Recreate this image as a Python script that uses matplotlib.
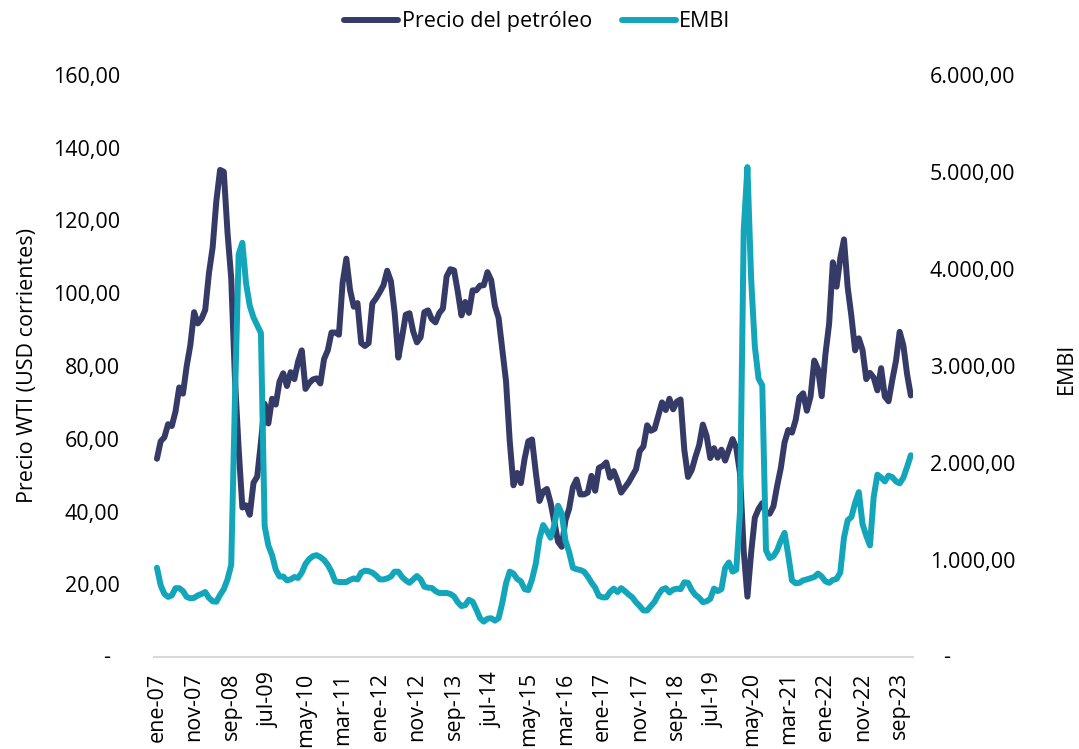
#!/usr/bin/env python3
"""WTI oil price vs. EMBI, monthly 2007-2023."""

import matplotlib
matplotlib.use('Agg')
import matplotlib.pyplot as plt
from matplotlib.lines import Line2D

plt.rcParams['font.family'] = ['Open Sans', 'DejaVu Sans']

C = {
    'oil': '#353b66',
    'embi': '#13a6ba',
    'axis': '#d9d9d9',
    'text': '#000000',
}

MONTHS = ['ene', 'feb', 'mar', 'abr', 'may', 'jun',
          'jul', 'ago', 'sep', 'oct', 'nov', 'dic']
YEARS = list(range(2007, 2024))

# WTI monthly average, USD per barrel
wti_2007 = [54.5, 59.3, 60.4, 64.0, 63.5, 67.5, 74.1, 72.4, 79.9, 85.8, 94.8, 91.7]
wti_2008 = [93.0, 95.4, 105.5, 112.6, 125.4, 133.9, 133.4, 116.7, 104.1, 76.6, 57.3, 41.1]
wti_2009 = [41.7, 39.1, 47.9, 49.6, 59.0, 69.6, 64.2, 71.0, 69.4, 75.7, 78.0, 74.5]
wti_2010 = [78.3, 76.4, 81.2, 84.3, 73.7, 75.3, 76.3, 76.6, 75.2, 81.9, 84.3, 89.2]
wti_2011 = [89.2, 88.6, 102.9, 109.5, 100.9, 96.3, 97.3, 86.3, 85.5, 86.3, 97.2, 98.6]
wti_2012 = [100.3, 102.2, 106.2, 103.3, 94.7, 82.3, 87.9, 94.1, 94.5, 89.5, 86.5, 87.9]
wti_2013 = [94.8, 95.3, 92.9, 92.0, 94.5, 95.8, 104.6, 106.6, 106.3, 100.5, 93.9, 97.6]
wti_2014 = [94.6, 100.8, 100.8, 102.1, 102.2, 105.8, 103.6, 96.5, 93.2, 84.4, 75.8, 59.3]
wti_2015 = [47.2, 50.6, 47.8, 54.5, 59.3, 59.8, 50.9, 42.9, 45.5, 46.2, 42.4, 37.2]
wti_2016 = [31.7, 30.3, 37.6, 40.8, 46.7, 48.8, 44.7, 44.7, 45.2, 49.8, 45.7, 52.0]
wti_2017 = [52.5, 53.5, 49.3, 51.1, 48.5, 45.2, 46.6, 48.0, 49.8, 51.6, 56.6, 57.9]
wti_2018 = [63.7, 62.2, 62.7, 66.3, 70.0, 67.9, 71.0, 68.1, 70.2, 70.8, 57.0, 49.5]
wti_2019 = [51.4, 55.0, 58.2, 63.9, 60.8, 54.7, 57.4, 54.8, 57.0, 54.0, 57.0, 59.9]
wti_2020 = [57.5, 50.5, 29.2, 16.6, 28.6, 38.3, 40.7, 42.3, 39.6, 39.4, 41.4, 47.0]
wti_2021 = [52.0, 59.0, 62.4, 61.7, 65.2, 71.4, 72.5, 67.7, 71.6, 81.5, 79.2, 71.7]
wti_2022 = [83.2, 91.6, 108.5, 101.8, 109.6, 114.8, 101.6, 93.7, 84.3, 87.6, 84.4, 76.4]
wti_2023 = [78.1, 76.8, 73.3, 79.4, 71.6, 70.3, 76.1, 81.4, 89.4, 85.6, 77.7, 71.9]

# EMBI, basis points
embi_2007 = [920, 740, 650, 620, 635, 710, 710, 680, 620, 605, 610, 635]
embi_2008 = [650, 670, 610, 575, 570, 640, 700, 800, 950, 2650, 4150, 4270]
embi_2009 = [3850, 3620, 3500, 3420, 3340, 1350, 1150, 1050, 900, 830, 830, 790]
embi_2010 = [800, 825, 815, 870, 960, 1010, 1040, 1050, 1030, 1000, 950, 880]
embi_2011 = [780, 773, 773, 773, 795, 810, 800, 870, 890, 885, 870, 840]
embi_2012 = [800, 800, 810, 830, 880, 880, 825, 790, 765, 800, 835, 800]
embi_2013 = [725, 715, 712, 680, 660, 660, 660, 650, 625, 565, 525, 535]
embi_2014 = [590, 570, 490, 400, 365, 395, 400, 375, 400, 560, 760, 880]
embi_2015 = [860, 805, 780, 700, 690, 800, 960, 1220, 1360, 1300, 1230, 1360]
embi_2016 = [1560, 1480, 1200, 1080, 920, 905, 897, 880, 830, 768, 715, 630]
embi_2017 = [615, 615, 670, 705, 670, 710, 680, 645, 615, 565, 525, 480]
embi_2018 = [480, 525, 570, 640, 695, 710, 665, 695, 705, 700, 770, 765]
embi_2019 = [690, 640, 610, 565, 575, 600, 705, 680, 700, 920, 975, 880]
embi_2020 = [900, 1500, 4400, 5050, 3900, 3200, 2870, 2800, 1100, 1020, 1040, 1100]
embi_2021 = [1200, 1280, 1050, 790, 760, 765, 790, 800, 812, 825, 860, 830]
embi_2022 = [780, 765, 794, 805, 870, 1230, 1410, 1443, 1590, 1700, 1370, 1250]
embi_2023 = [1150, 1650, 1880, 1850, 1810, 1870, 1855, 1810, 1790, 1850, 1960, 2080]

wti = (wti_2007 + wti_2008 + wti_2009 + wti_2010 + wti_2011 + wti_2012
       + wti_2013 + wti_2014 + wti_2015 + wti_2016 + wti_2017 + wti_2018
       + wti_2019 + wti_2020 + wti_2021 + wti_2022 + wti_2023)
embi = (embi_2007 + embi_2008 + embi_2009 + embi_2010 + embi_2011 + embi_2012
        + embi_2013 + embi_2014 + embi_2015 + embi_2016 + embi_2017 + embi_2018
        + embi_2019 + embi_2020 + embi_2021 + embi_2022 + embi_2023)
dates = [f'{m}-{str(y)[2:]}' for y in YEARS for m in MONTHS]
x = list(range(len(dates)))

left_ticks = list(range(0, 161, 20))
right_ticks = list(range(0, 6001, 1000))
x_ticks = x[::10]


def es_num(v):
    """Spanish number format: 6.000,00"""
    s = f'{v:,.2f}'
    return s.replace(',', '#').replace('.', ',').replace('#', '.')


FS = 15.5
LW = 4.3

fig = plt.figure(figsize=(10.79, 7.49), dpi=100)
fig.patch.set_facecolor('white')
ax = fig.add_axes([0.1427, 0.1228, 0.7035, 0.7771])
ax2 = ax.twinx()

ax.plot(x, wti, color=C['oil'], lw=LW, solid_capstyle='round',
        solid_joinstyle='round', zorder=3)
ax2.plot(x, embi, color=C['embi'], lw=LW, solid_capstyle='round',
         solid_joinstyle='round', zorder=3)

ax.set_xlim(-0.8, 203.6)
ax.set_ylim(0, 160)
ax2.set_ylim(0, 6000)

ax.set_xticks(x_ticks)
ax.set_xticklabels([dates[i] for i in x_ticks], rotation=90, fontsize=FS)
ax.tick_params(axis='x', length=0, pad=11)

ax.set_yticks(left_ticks)
ax.set_yticklabels(['' if v == 0 else es_num(v) for v in left_ticks], fontsize=FS)
ax.tick_params(axis='y', length=0, pad=24.5)

ax2.set_yticks(right_ticks)
ax2.set_yticklabels(['' if v == 0 else es_num(v) for v in right_ticks], fontsize=FS)
ax2.tick_params(axis='y', length=0, pad=12)

# accounting-style dash for the zero labels
ax.annotate('-', xy=(0, 0), xycoords=('axes fraction', 'data'),
            xytext=(-33.8, 0), textcoords='offset points',
            ha='center', va='center', fontsize=FS)
ax.annotate('-', xy=(1, 0), xycoords=('axes fraction', 'data'),
            xytext=(24.5, 0), textcoords='offset points',
            ha='center', va='center', fontsize=FS)

for a in (ax, ax2):
    for side in ('top', 'left', 'right'):
        a.spines[side].set_visible(False)
    a.set_facecolor('none')
ax.spines['bottom'].set_color(C['axis'])
ax.spines['bottom'].set_linewidth(1.5)
ax2.spines['bottom'].set_visible(False)

fig.text(28 / 1079, 1 - 365 / 749, 'Precio WTI (USD corrientes)', rotation=90,
         ha='center', va='center', fontsize=FS)
fig.text(1066 / 1079, 1 - 368 / 749, 'EMBI', rotation=90,
         ha='center', va='center', fontsize=FS)

handles = [
    Line2D([], [], color=C['oil'], lw=LW, solid_capstyle='round'),
    Line2D([], [], color=C['embi'], lw=LW, solid_capstyle='round'),
]
fig.legend(handles, ['Precio del petróleo', 'EMBI'], loc='center',
           bbox_to_anchor=(0.498, 0.971), ncol=2, frameon=False, fontsize=FS,
           handlelength=2.5, handletextpad=0.15, columnspacing=1.4)

fig.savefig('out.png', dpi=100, facecolor='white')
plt.close()
